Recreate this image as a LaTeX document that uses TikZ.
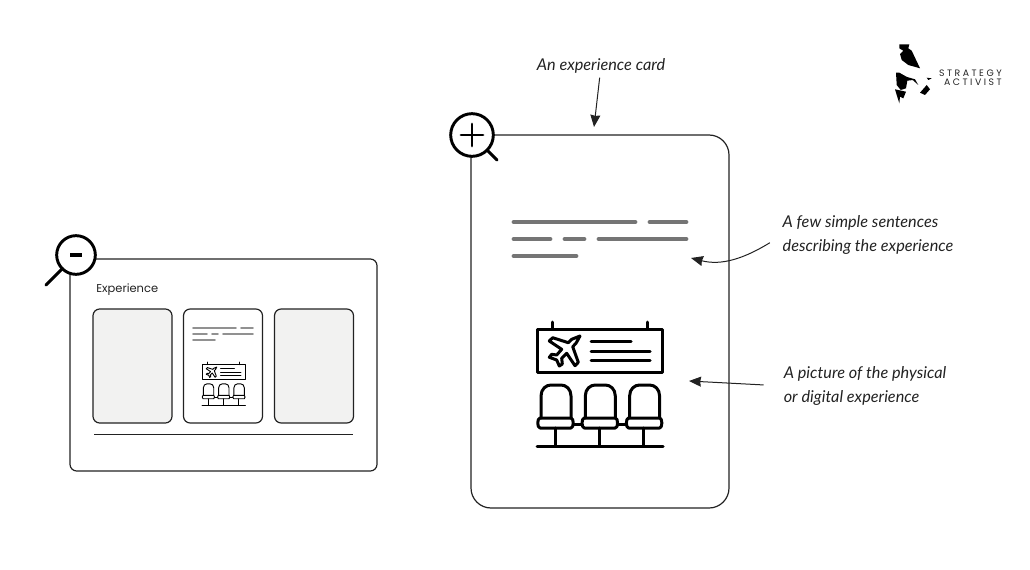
\documentclass[tikz,border=0pt]{standalone}
\usepackage{fontspec}
\setmainfont{Poppins}
\newfontfamily\notefont{Lato Italic}
\usetikzlibrary{arrows.meta}

\definecolor{inkline}{HTML}{222222}
\definecolor{greybar}{HTML}{757575}
\definecolor{greycard}{HTML}{F2F2F1}

\tikzset{
notetext/.style={
align=left,
inner sep=0pt,
text=inkline,
font=\notefont\fontsize{12.2}{18}\selectfont
},
notearrow/.style={
draw=inkline,
line width=0.75pt,
-{Stealth[length=9pt,width=7.5pt,inset=0.6pt]}
},
framebox/.style={
draw=inkline,
line width=0.9pt,
rounded corners=5pt,
outer sep=0pt,
inner sep=0pt
},
lens/.style={
draw=black,
fill=white,
line width=2.2pt,
circle,
inner sep=0pt,
outer sep=0pt
},
logotext/.style={
inner sep=0pt,
anchor=east,
text=inkline,
font=\fontsize{7}{8}\addfontfeature{LetterSpace=27}\selectfont
}
}

% departure lounge icon, origin top left of its box
\newcommand{\loungeicon}[4]{
\begin{scope}[shift={(#1,#2)},scale=#3,line width=#4,draw=black,line cap=round,line join=round]
\draw (0,9) rectangle (125,52);
\draw (15,2) -- (15,9);
\draw (110,2) -- (110,9);
\draw (54,21) -- (94,21);
\draw (54,31) -- (113,31);
\draw (54,40) -- (113,40);
\draw (43,16) -- (34.7,19.3) -- (31.3,22.7) -- (15.7,17.7) -- (12.3,21) -- (24.7,29.3) -- (19.7,35) -- (14.7,34.3) -- (12.3,37.3) -- (19.7,40) -- (22.3,46) -- (25.3,44) -- (24.7,38.3) -- (29.7,33.3) -- (38,45.7) -- (41.3,42.3) -- (35.7,26.7) -- (39,23.3) -- cycle;
\foreach \seat in {0,44.3,88.6}{
\begin{scope}[shift={(\seat,0)}]
\draw (4,98) -- (4,76) .. controls (4,69) and (9,65) .. (14,65) -- (24,65) .. controls (29,65) and (34,69) .. (34,76) -- (34,98);
\draw (3,98) -- (34,98) .. controls (37,98) and (37,108) .. (34,108) -- (3,108) .. controls (0,108) and (0,98) .. (3,98) -- cycle;
\draw (18,108) -- (18,126);
\end{scope}
}
\draw (36.5,104) -- (44.3,104);
\draw (80.8,104) -- (88.6,104);
\draw (0,126) -- (126,126);
\end{scope}
}

\begin{document}
\begin{tikzpicture}[x=0.75pt,y=-0.75pt]

\useasboundingbox (0,0) rectangle (1030,570);

% overview frame
\node[framebox,minimum width=230.25pt,minimum height=159pt] (frame)
at (223.5,365) {};

\node[inner sep=0pt,anchor=west,text=inkline,font=\fontsize{8.6}{11}\selectfont] (title)
at (96,290) {Experience};

\node[framebox,fill=greycard,minimum width=59.25pt,minimum height=85.5pt] (leftcard)
at (132.5,366) {};

\node[framebox,minimum width=59.25pt,minimum height=85.5pt] (midcard)
at (223,366) {};

\node[framebox,fill=greycard,minimum width=59.25pt,minimum height=85.5pt] (rightcard)
at (314,366) {};

\draw[inkline,line width=0.65pt] (94,434) -- (353,434);

% sentences on the small card
\draw[greybar!80,line width=1.3pt,line cap=round] (193,328) -- (236,328) (241,328) -- (253,328);
\draw[greybar!80,line width=1.3pt,line cap=round] (193,334) -- (207,334) (212,334) -- (218,334) (223,334) -- (253,334);
\draw[greybar!80,line width=1.3pt,line cap=round] (193,340) -- (215,340);

\loungeicon{202}{361.5}{0.345}{0.7pt}

% big card
\node[framebox,rounded corners=15pt,minimum width=193.5pt,minimum height=279.75pt] (card)
at (600,321.5) {};

\draw[greybar,line width=3.6pt,line cap=round] (514,222) -- (635,222) (650,222) -- (686,222);
\draw[greybar,line width=3.6pt,line cap=round] (514,239) -- (550,239) (565,239) -- (584,239) (599,239) -- (686,239);
\draw[greybar,line width=3.6pt,line cap=round] (514,256) -- (576,256);

\loungeicon{537}{320}{1}{2.25pt}

% magnifiers
\node[lens,minimum size=29pt] (minuslens)
at (76,255) {};

\draw[black,line width=2.2pt,line cap=round] (minuslens.225) -- (46,285);
\fill[black] (70,253) rectangle (82,257);

\node[lens,minimum size=32pt] (pluslens)
at (472,135) {};

\draw[black,line width=2.2pt,line cap=round] (pluslens.-45) -- (497,160);
\draw[black,line width=2.2pt,line cap=round] (461,135) -- (483,135);
\draw[black,line width=2.2pt,line cap=round] (472,124) -- (472,146);

% notes and their arrows
\node[notetext] (cardnote)
at (601,66) {An experience card};

\node[notetext] (sentencesnote)
at (868,235) {A few simple sentences\\describing the experience};

\node[notetext] (picturenote)
at (865,386) {A picture of the physical\\or digital experience};

\coordinate (cardtip) at (594,127);
\coordinate (sentencestip) at (691,258);
\coordinate (picturetip) at (689,381);

\draw[notearrow,shorten <=3pt] (cardnote) -- (cardtip);
\draw[notearrow,shorten <=11pt] (sentencesnote.west) .. controls (745,258) and (722,266) .. (sentencestip);
\draw[notearrow,shorten <=15pt] (picturenote.west) -- (picturetip);

% logo
\fill[black] (899.3,44.3) -- (909.3,44.3) -- (908.3,48.3) -- (911.7,50.7) -- (920,68.3) -- (908.3,65) -- (901.7,60) -- (900,54) -- (903.3,50.7) -- (899.3,48.3) -- cycle;
\fill[black] (896,72.7) -- (899.3,72.7) -- (907,77) -- (915,79.3) -- (918.3,85) -- (912.7,80) -- (907.3,80.7) -- (906,88.3) -- (900.7,90) -- (896.7,85) -- cycle;
\fill[black] (895,89.3) -- (906,91.7) -- (903.3,98.3) -- (900,96.7) -- (899.3,103.3) -- (896.7,95) -- cycle;
\fill[black] (920,92.7) -- (926.7,85) -- (930,89.3) -- (925,95) -- cycle;
\fill[black] (926.7,77.7) -- (931.7,78.3) -- (928.3,80) -- cycle;

\node[logotext] (logotop)
at (1002,73) {STRATEGY};

\node[logotext] (logobottom)
at (1002,82) {ACTIVIST};

\end{tikzpicture}
\end{document}
